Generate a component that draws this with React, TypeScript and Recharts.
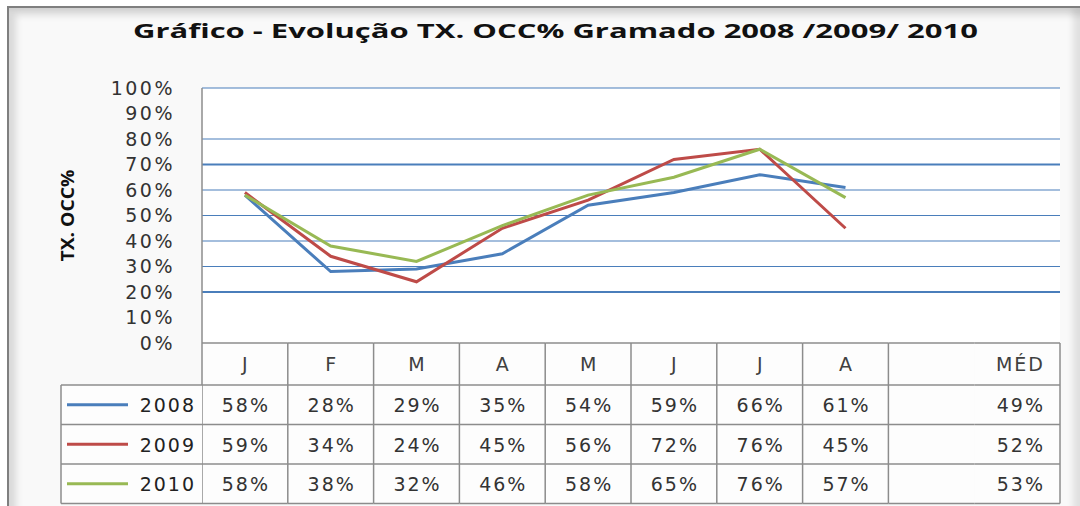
import React from "react";
import { Line, LineChart, ReferenceLine, XAxis, YAxis, CartesianGrid } from "recharts";

// Excel 2007 default palette
const BLUE = "#4A7EBB";
const RED = "#BE4B48";
const GREEN = "#98B954";
const GRID = "#4A7EBB";
const BORDER = "#8c8c8c";
const FONT = "'DejaVu Sans', sans-serif";

const MONTHS = ["J", "F", "M", "A", "M", "J", "J", "A"];
const AVG_LABEL = "MÉD";
const OCC_2008 = [58, 28, 29, 35, 54, 59, 66, 61];
const OCC_2009 = [59, 34, 24, 45, 56, 72, 76, 45];
const OCC_2010 = [58, 38, 32, 46, 58, 65, 76, 57];
const AVERAGES = [49, 52, 53];
const Y_TICKS = [0, 10, 20, 30, 40, 50, 60, 70, 80, 90, 100];
const GRID_VALUES = [20, 30, 40, 50, 60, 70, 80, 100];
const STRONG_GRID = [20, 70];

const SERIES = [
  { key: "y2008", name: "2008", color: BLUE, values: OCC_2008 },
  { key: "y2009", name: "2009", color: RED, values: OCC_2009 },
  { key: "y2010", name: "2010", color: GREEN, values: OCC_2010 },
];

// months, then an empty slot + MÉD (the average column spans both)
const CATS = [...MONTHS, "", AVG_LABEL];
const data = CATS.map((cat, i) => {
  const row: Record<string, string | number> = { cat };
  SERIES.forEach((s) => {
    if (i < s.values.length) row[s.key] = s.values[i];
  });
  return row;
});

const W = 1080;
const H = 506;
const MARGIN = { top: 88, right: 20, bottom: 3, left: 102 };
const Y_AXIS_W = 100;
const X_AXIS_H = 160;
const PLOT_W = W - MARGIN.left - MARGIN.right - Y_AXIS_W;
const BAND = PLOT_W / CATS.length;
const HEAD_H = 42;
const ROW_H = 39.5;
const LEGEND_W = 141;

const pct = (v: number) => `${v}%`;

function TableTick(props: any) {
  const { x, y, payload } = props;
  const i: number = props.index ?? payload.index;
  const left = x - BAND / 2;
  const right = x + BAND / 2;
  const bottom = y + HEAD_H + SERIES.length * ROW_H;
  const isAvg = i === MONTHS.length + 1;
  const els: React.ReactNode[] = [];

  // cell background + horizontal rules
  els.push(<rect key="bg" x={left} y={y} width={BAND} height={bottom - y} fill="#fdfdfd" />);
  [0, 1, 2, 3].forEach((r) => {
    const yy = r === 0 ? y : y + HEAD_H + (r - 1) * ROW_H;
    els.push(<line key={`h${r}`} x1={left} x2={right} y1={yy} y2={yy} stroke={BORDER} strokeWidth={1.5} />);
  });
  els.push(<line key="hb" x1={left} x2={right} y1={bottom} y2={bottom} stroke={BORDER} strokeWidth={1.5} />);
  if (!isAvg) {
    els.push(<line key="vl" x1={left} x2={left} y1={y} y2={bottom} stroke={BORDER} strokeWidth={1.5} />);
  } else {
    els.push(<line key="vr" x1={right} x2={right} y1={y} y2={bottom} stroke={BORDER} strokeWidth={1.5} />);
  }

  const textProps = { fontFamily: FONT, fontSize: 19, letterSpacing: 2 };
  if (i < MONTHS.length) {
    els.push(
      <text key="hd" x={x + 1} y={y + 28} textAnchor="middle" fill="#404040" {...textProps}>
        {MONTHS[i]}
      </text>
    );
    SERIES.forEach((s, r) => {
      els.push(
        <text key={`v${r}`} x={x + 1} y={y + HEAD_H + r * ROW_H + 27} textAnchor="middle" fill="#333" {...textProps}>
          {pct(s.values[i])}
        </text>
      );
    });
  } else if (isAvg) {
    els.push(
      <text key="hd" x={right - 15} y={y + 28} textAnchor="end" fill="#404040" {...textProps}>
        {AVG_LABEL}
      </text>
    );
    AVERAGES.forEach((v, r) => {
      els.push(
        <text key={`a${r}`} x={right - 15} y={y + HEAD_H + r * ROW_H + 27} textAnchor="end" fill="#333" {...textProps}>
          {pct(v)}
        </text>
      );
    });
  }

  // legend column, left of the first month
  if (i === 0) {
    const lx = left - LEGEND_W;
    SERIES.forEach((s, r) => {
      const top = y + HEAD_H + r * ROW_H;
      els.push(
        <g key={`lg${r}`}>
          <rect x={lx} y={top} width={LEGEND_W} height={ROW_H} fill="#fdfdfd" />
          <line x1={lx + 6} x2={lx + 67} y1={top + ROW_H / 2} y2={top + ROW_H / 2} stroke={s.color} strokeWidth={3} />
          <text x={left - 6} y={top + 27} textAnchor="end" fill="#222" {...textProps}>
            {s.name}
          </text>
        </g>
      );
    });
    els.push(<line key="lt" x1={lx} x2={left} y1={y + HEAD_H} y2={y + HEAD_H} stroke={BORDER} strokeWidth={1.5} />);
    els.push(<line key="lb" x1={lx} x2={left} y1={bottom} y2={bottom} stroke={BORDER} strokeWidth={1.5} />);
    els.push(<line key="ll" x1={lx} x2={lx} y1={y + HEAD_H} y2={bottom} stroke={BORDER} strokeWidth={1.5} />);
    [1, 2].forEach((r) => {
      const yy = y + HEAD_H + r * ROW_H;
      els.push(<line key={`lr${r}`} x1={lx} x2={left} y1={yy} y2={yy} stroke={BORDER} strokeWidth={1.5} />);
    });
  }
  return <g>{els}</g>;
}

function YTick(props: any) {
  const { x, y, payload } = props;
  return (
    <text x={x + 2} y={y} dy="0.36em" textAnchor="end" fill="#333" fontFamily={FONT} fontSize={19} letterSpacing={2.5}>
      {pct(payload.value)}
    </text>
  );
}

function YTitle(props: any) {
  const vb = props.viewBox || { x: 102, y: 88, height: 255 };
  const cx = vb.x - 35;
  const cy = vb.y + vb.height / 2;
  return (
    <text
      x={cx}
      y={cy}
      transform={`rotate(-90, ${cx}, ${cy})`}
      textAnchor="middle"
      dominantBaseline="central"
      fontFamily="'Open Sans', sans-serif"
      fontWeight={700}
      fontSize={18}
      textLength={92}
      lengthAdjust="spacingAndGlyphs"
      fill="#111"
    >
      TX. OCC%
    </text>
  );
}

export default function App() {
  return (
    <div style={{ position: "absolute", left: 0, top: 0, width: W, height: H, background: "#fff", overflow: "hidden" }}>
      <div
        style={{
          position: "absolute",
          left: 7,
          top: 6,
          width: W - 7,
          height: H,
          background: "#f9f9f9",
          borderLeft: "2px solid #7f7f7f",
          borderTop: "2px solid #7f7f7f",
          boxShadow: "inset 7px 7px 7px rgba(0,0,0,0.13), inset -9px 0 7px rgba(0,0,0,0.1)",
        }}
      />
      <svg width={W} height={50} style={{ position: "absolute", left: 0, top: 0 }}>
        <text
          x={133}
          y={38}
          fontFamily="'Open Sans', sans-serif"
          fontWeight={700}
          fontSize={20}
          textLength={845}
          lengthAdjust="spacingAndGlyphs"
          fill="#111"
        >
          Gráfico - Evolução TX. OCC% Gramado 2008 /2009/ 2010
        </text>
      </svg>
      <div style={{ position: "absolute", left: 0, top: 0 }}>
        <LineChart width={W} height={H} data={data} margin={MARGIN}>
          <CartesianGrid horizontal={false} vertical={false} fill="#ffffff" />
          <XAxis
            dataKey="cat"
            interval={0}
            height={X_AXIS_H}
            axisLine={false}
            tickLine={false}
            tickSize={0}
            tickMargin={0}
            padding={{ left: BAND / 2, right: BAND / 2 }}
            tick={<TableTick />}
          />
          <YAxis
            width={Y_AXIS_W}
            domain={[0, 100]}
            ticks={Y_TICKS}
            interval={0}
            axisLine={{ stroke: BORDER, strokeWidth: 1.5 }}
            tickLine={false}
            tickSize={0}
            tickMargin={29}
            tick={<YTick />}
            label={<YTitle />}
          />
          {GRID_VALUES.map((v) => (
            <ReferenceLine
              key={v}
              y={v}
              stroke={GRID}
              strokeWidth={STRONG_GRID.includes(v) ? 2.2 : 1.2}
            />
          ))}
          {SERIES.map((s) => (
            <Line
              key={s.key}
              dataKey={s.key}
              name={s.name}
              type="linear"
              stroke={s.color}
              strokeWidth={3}
              dot={false}
              activeDot={false}
              isAnimationActive={false}
            />
          ))}
        </LineChart>
      </div>
    </div>
  );
}
